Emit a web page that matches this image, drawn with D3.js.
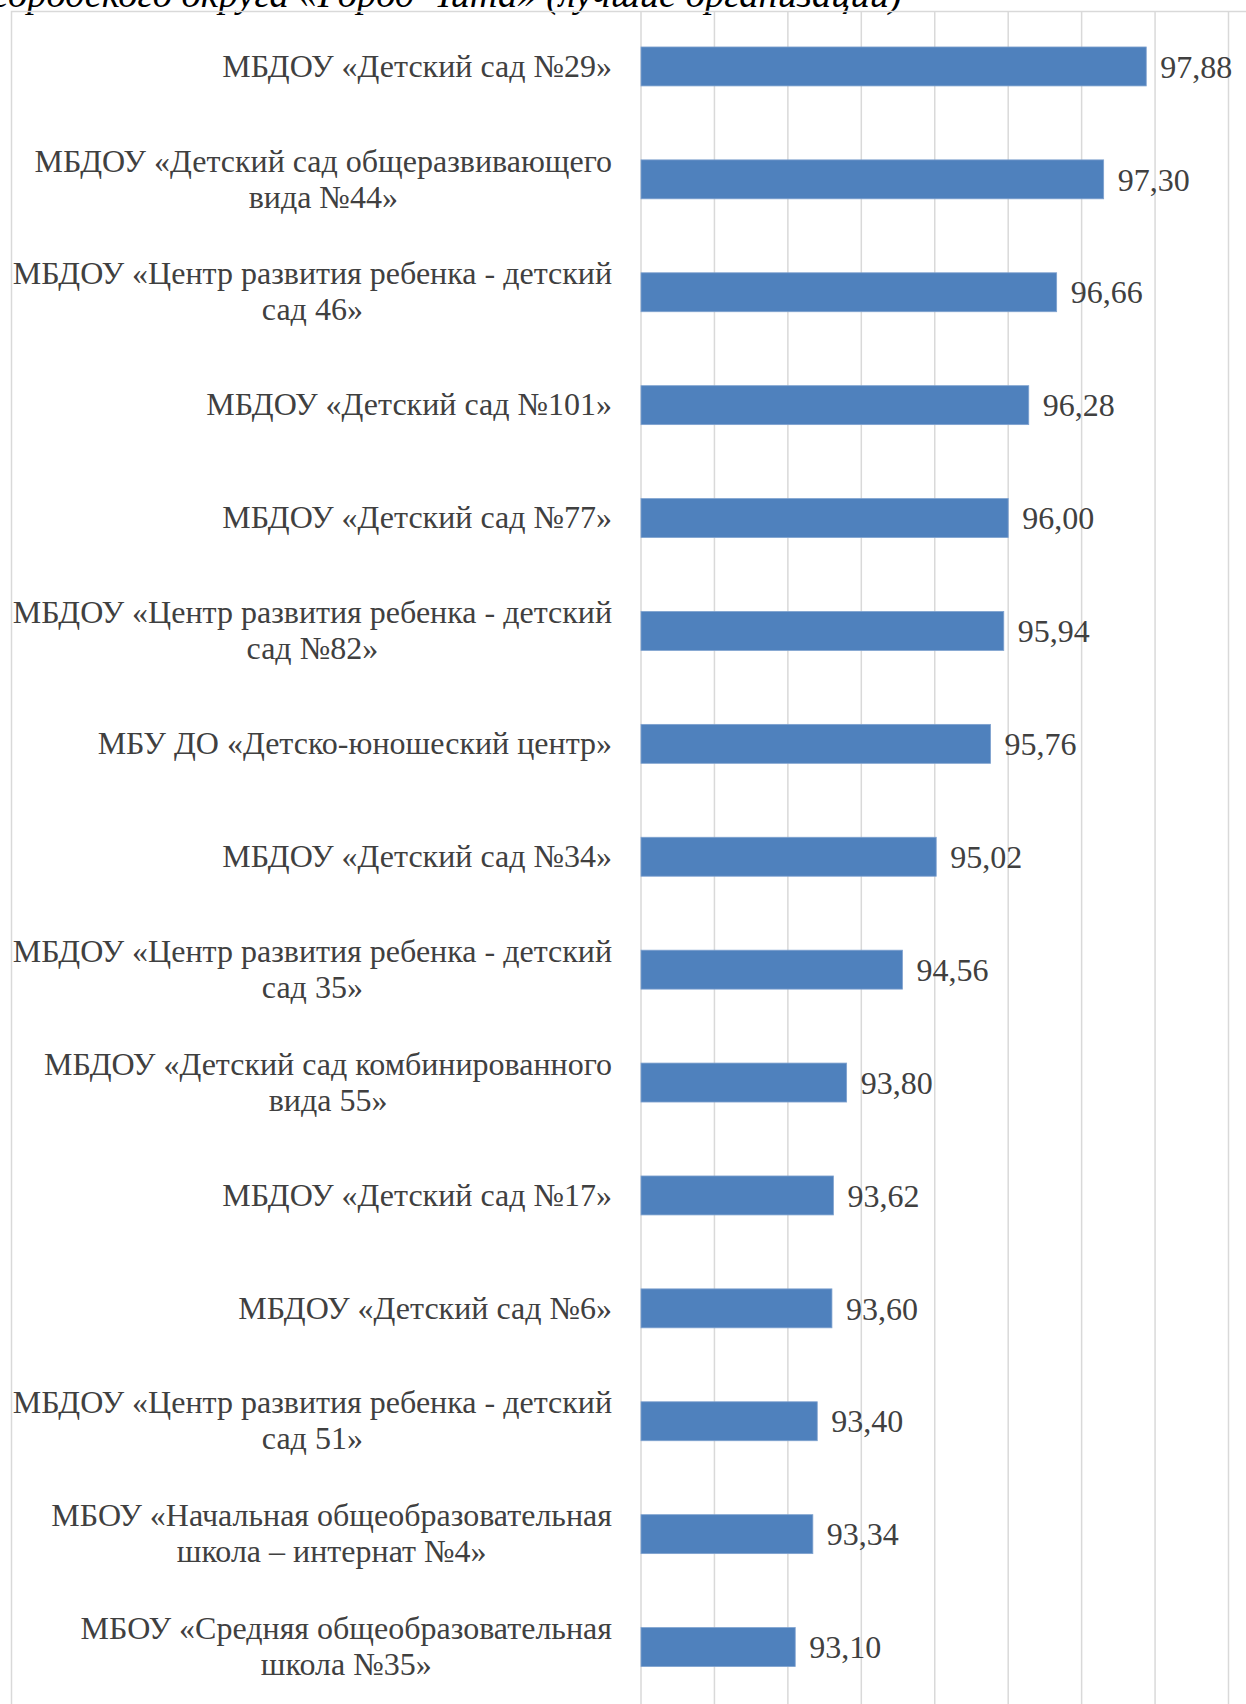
<!DOCTYPE html>
<html>
<head>
<meta charset="utf-8">
<script src="https://cdn.jsdelivr.net/npm/d3@7"></script>
<style>
  html, body { margin: 0; padding: 0; background: #ffffff; }
  svg { display: block; }
</style>
</head>
<body>
<svg id="chart" width="1246" height="1704"></svg>
<script>
const titleText = "городского округа «Город Чита» (лучшие организации)";
const categories = [
  "МБДОУ «Детский сад №29»",
  "МБДОУ «Детский сад общеразвивающего\nвида №44»",
  "МБДОУ «Центр развития ребенка - детский\nсад 46»",
  "МБДОУ «Детский сад №101»",
  "МБДОУ «Детский сад №77»",
  "МБДОУ «Центр развития ребенка - детский\nсад №82»",
  "МБУ ДО «Детско-юношеский центр»",
  "МБДОУ «Детский сад №34»",
  "МБДОУ «Центр развития ребенка - детский\nсад 35»",
  "МБДОУ «Детский сад комбинированного\nвида 55»",
  "МБДОУ «Детский сад №17»",
  "МБДОУ «Детский сад №6»",
  "МБДОУ «Центр развития ребенка - детский\nсад 51»",
  "МБОУ «Начальная общеобразовательная\nшкола – интернат №4»",
  "МБОУ «Средняя общеобразовательная\nшкола №35»"
];
const values = [97.88, 97.30, 96.66, 96.28, 96.00, 95.94, 95.76, 95.02, 94.56, 93.80, 93.62, 93.60, 93.40, 93.34, 93.10];
const axisMin = 91, axisMax = 99;
const gridTicks = [91, 92, 93, 94, 95, 96, 97, 98, 99];

const svg = d3.select("#chart");
const font = "'Liberation Serif', 'Times New Roman', serif";
const textColor = "#404040";
const fontSize = 32;
const lineH = 36;

// title (cropped at top, as in the reference)
svg.append("text")
  .attr("x", -7).attr("y", 7)
  .attr("font-family", font).attr("font-style", "italic")
  .attr("font-size", 38.5).attr("fill", "#000")
  .text(titleText);

// frame
svg.append("path")
  .attr("d", "M11.5,1704 L11.5,11.5 L1246,11.5")
  .attr("fill", "none").attr("stroke", "#d9d9d9").attr("stroke-width", 1.5);

const x = d3.scaleLinear().domain([axisMin, axisMax]).range([641, 1228.5]);
const y = d3.scaleBand().domain(categories).range([10, 1703.5])
  .paddingInner(0.655).paddingOuter(0.3275);

// gridlines
svg.append("g").selectAll("line").data(gridTicks).join("line")
  .attr("x1", d => x(d)).attr("x2", d => x(d))
  .attr("y1", 11.5).attr("y2", 1704)
  .attr("stroke", "#d9d9d9").attr("stroke-width", 1.5);

// bars
svg.append("g").selectAll("rect").data(values).join("rect")
  .attr("x", x(axisMin))
  .attr("y", (d, i) => y(categories[i]))
  .attr("width", d => x(d) - x(axisMin))
  .attr("height", y.bandwidth())
  .attr("fill", "#4F81BD")
  .attr("stroke", "#7fa2cf").attr("stroke-width", 0.8);

// value labels
const fmt = v => v.toFixed(2).replace(".", ",");
svg.append("g").selectAll("text").data(values).join("text")
  .attr("x", d => x(d) + 14)
  .attr("y", (d, i) => y(categories[i]) + y.bandwidth() / 2)
  .attr("dy", "0.35em")
  .attr("font-family", font).attr("font-size", fontSize).attr("fill", textColor)
  .text(d => fmt(d));

// category labels: block right-aligned, lines centered
const ctx = document.createElement("canvas").getContext("2d");
ctx.font = fontSize + "px " + font;
const rightEdge = 612;
const lg = svg.append("g");
categories.forEach(c => {
  const lines = c.split("\n");
  const w = d3.max(lines, l => ctx.measureText(l).width);
  const cx = rightEdge - w / 2;
  const cy = y(c) + y.bandwidth() / 2;
  const t = lg.append("text")
    .attr("font-family", font).attr("font-size", fontSize).attr("fill", textColor)
    .attr("text-anchor", "middle");
  lines.forEach((l, k) => {
    t.append("tspan").attr("x", cx)
      .attr("y", cy + (k - (lines.length - 1) / 2) * lineH - 1)
      .attr("dy", "0.35em").text(l);
  });
});
</script>
</body>
</html>
